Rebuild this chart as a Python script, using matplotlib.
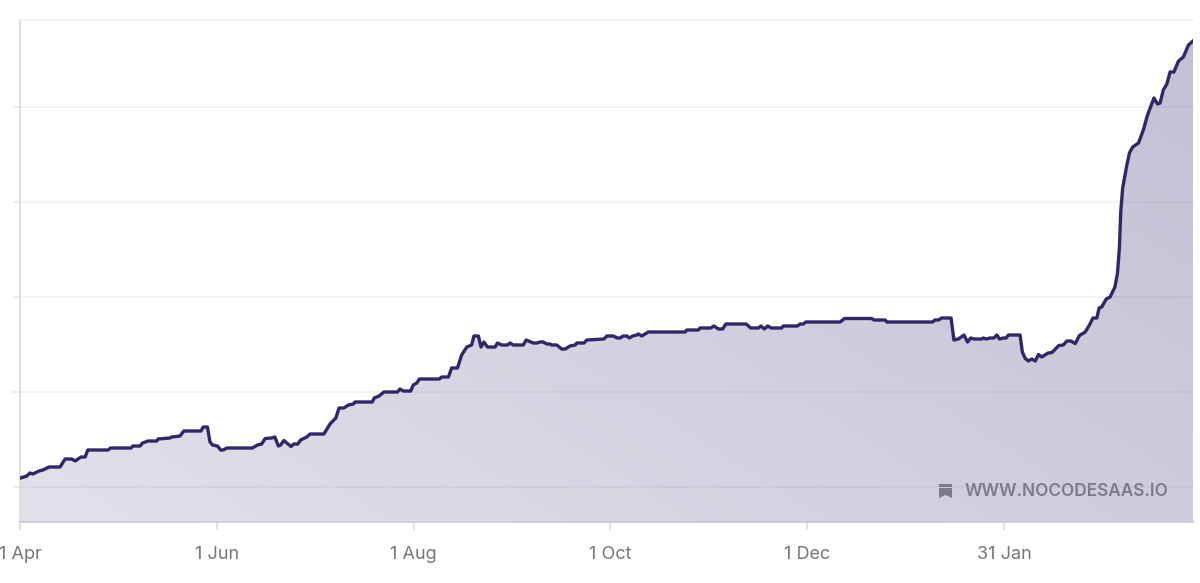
import numpy as np
import matplotlib
matplotlib.use("Agg")
import matplotlib.pyplot as plt
from matplotlib.colors import LinearSegmentedColormap
from matplotlib.patches import Polygon

# days since 1 Apr
days = [0.2,2.1,3.1,4.0,5.9,7.1,9.0,12.4,14.0,16.0,17.1,18.9,20.2,21.0,27.3,28.1,34.4,35.0,37.2,38.0,39.7,42.4,42.8,46.5,47.0,49.6,50.8,56.1,56.8,58.1,58.9,59.7,61.2,62.2,63.0,64.1,72.0,73.6,74.9,76.0,78.0,79.0,80.1,80.8,81.8,84.0,84.9,86.1,87.0,88.9,89.9,94.2,96.1,97.9,98.9,100.4,101.8,103.3,103.9,109.2,109.8,111.3,112.8,117.0,117.8,118.8,121.1,121.9,123.0,123.8,130.0,130.7,132.8,133.8,135.6,136.9,138.5,140.0,140.7,142.1,142.9,143.8,144.9,147.3,148.0,149.3,151.1,151.9,152.9,156.0,156.9,159.1,160.2,161.2,162.2,163.3,164.3,164.8,166.4,167.9,169.0,170.5,172.1,172.6,174.8,175.7,181.0,181.9,183.9,185.2,186.0,187.0,188.1,188.9,189.9,191.2,191.7,192.7,194.8,206.2,206.7,210.3,210.8,214.1,215.1,216.5,217.8,218.8,225.1,226.5,228.9,229.7,230.7,231.8,232.8,236.1,236.6,241.0,241.8,242.8,243.6,254.2,255.6,264.0,264.7,268.2,268.7,282.9,283.6,284.7,285.7,288.6,289.5,290.9,292.6,293.7,294.7,295.7,298.1,298.6,299.5,300.7,301.9,302.8,303.6,304.8,305.7,306.4,310.0,310.7,311.6,312.6,313.6,314.7,315.7,316.7,318.7,319.9,322.0,323.4,324.5,325.7,327.1,328.4,330.2,331.5,332.6,333.8,334.5,335.3,336.7,337.9,339.4,340.2,340.8,341.2,341.8,343.1,343.9,344.9,346.7,348.2,349.5,351.5,352.6,353.4,354.4,355.5,356.5,357.7,359.1,360.6,362.2,363.6]
values = [104,106,109,108,111,112,115,115,123,123,121,125,125,132,132,134,134,136,136,139,141,141,143,144,145,146,151,151,155,155,140,137,136,132,132,134,134,137,138,143.5,144,145,136,137,141.5,135.5,138,138,142,145,148,148,158,164,174,174,177,178,180,180,184,186,190,190,193,191,191,197,199,203,203,205,205,214,214,227,235,237,246,246,235,240,235,235,239,237,237,239,237,237,242,239,239,240,240,238,238,237,237,233,233,236,237,239,239,242,243,246,246,244,244,246,246,244,246,247,248,246,250,250,252,252,254,254,256,253,253,258,258,254,254,256,253,256,254,254,256,256,258,258,260,260,263.5,263.5,262,262,260,260,262,262,264,264,242,243,247,240,244,243,243,244,243,244,244,247,243,244,244,247,247,230,223.5,221,223,221,227.5,225,229,229.5,236.5,237,241,241,238.5,246.5,250,257,264,264,274,275,283,285,295,309,335,370,394,417,429,435,439,452,467,484,478,479,492,498,510,510,521,525,537,541]
tick_days = [0, 61, 122, 183, 244, 305]
tick_labels = ["1 Apr", "1 Jun", "1 Aug", "1 Oct", "1 Dec", "31 Jan"]
grid_values = [95, 190, 285, 380, 475]
watermark = "WWW.NOCODESAAS.IO"

W, H = 1200, 583
fig = plt.figure(figsize=(W / 100, H / 100), dpi=100, facecolor="white")
ax = fig.add_axes([20 / W, 1 - 522 / H, (1193 - 20) / W, (522 - 20) / H])
ax.set_xlim(0, 363.6)
ax.set_ylim(60, 562)
ax.set_facecolor("white")

# gradient fill clipped to the area under the line
cmap = LinearSegmentedColormap.from_list("f", ["#e3e0ea", "#d3cfdf", "#c4bfd3"])
gx, gy = np.meshgrid(np.linspace(0, 1, 300), np.linspace(0, 1, 150))
grad = 0.6 * gx + 0.4 * gy
im = ax.imshow(grad, extent=(0, 363.6, 60, 562), origin="lower", aspect="auto",
               cmap=cmap, vmin=0, vmax=1, zorder=1)
poly = ax.fill_between(days, values, 60, color="none", zorder=1)
im.set_clip_path(poly.get_paths()[0], transform=ax.transData)

# gridlines over the fill
for v in grid_values + [562]:
    ax.axhline(v, color="#56506e", alpha=0.075, lw=1.2, zorder=2, clip_on=False)

ax.plot(days, values, color="#2f2768", lw=2.4, solid_joinstyle="round", zorder=3)

for s in ["top", "right"]:
    ax.spines[s].set_visible(False)
ax.spines["left"].set_color("#dcdce0")
ax.spines["left"].set_linewidth(1.3)
ax.spines["bottom"].set_color("#cdcad6")
ax.spines["bottom"].set_linewidth(1.3)

ax.set_yticks(grid_values)
ax.set_yticklabels([])
ax.tick_params(axis="y", length=5, width=1.2, color="#e6e6e8")
ax.set_xticks(tick_days)
ax.set_xticklabels(tick_labels, fontfamily="Inter", fontsize=13, color="#77767c")
ax.tick_params(axis="x", length=5.5, width=1.2, color="#dcdce0", pad=12)

# watermark
fig.text(965 / W, 1 - 492 / H, watermark, fontfamily="Inter", fontsize=12.4,
         fontweight="semibold", color="#7d7a8b", va="center", ha="left")
fx = lambda p: (p[0] / W, 1 - p[1] / H)
fig.add_artist(Polygon([fx(p) for p in [(939, 488), (952, 488), (952, 498), (945.5, 495), (939, 498)]],
                       closed=True, transform=fig.transFigure, fc="#7d7a8b", ec="none"))
fig.add_artist(Polygon([fx(p) for p in [(939, 484), (952, 484), (952, 486.5), (939, 486.5)]],
                       closed=True, transform=fig.transFigure, fc="#7d7a8b", ec="none"))

fig.savefig("out.png", dpi=100)
